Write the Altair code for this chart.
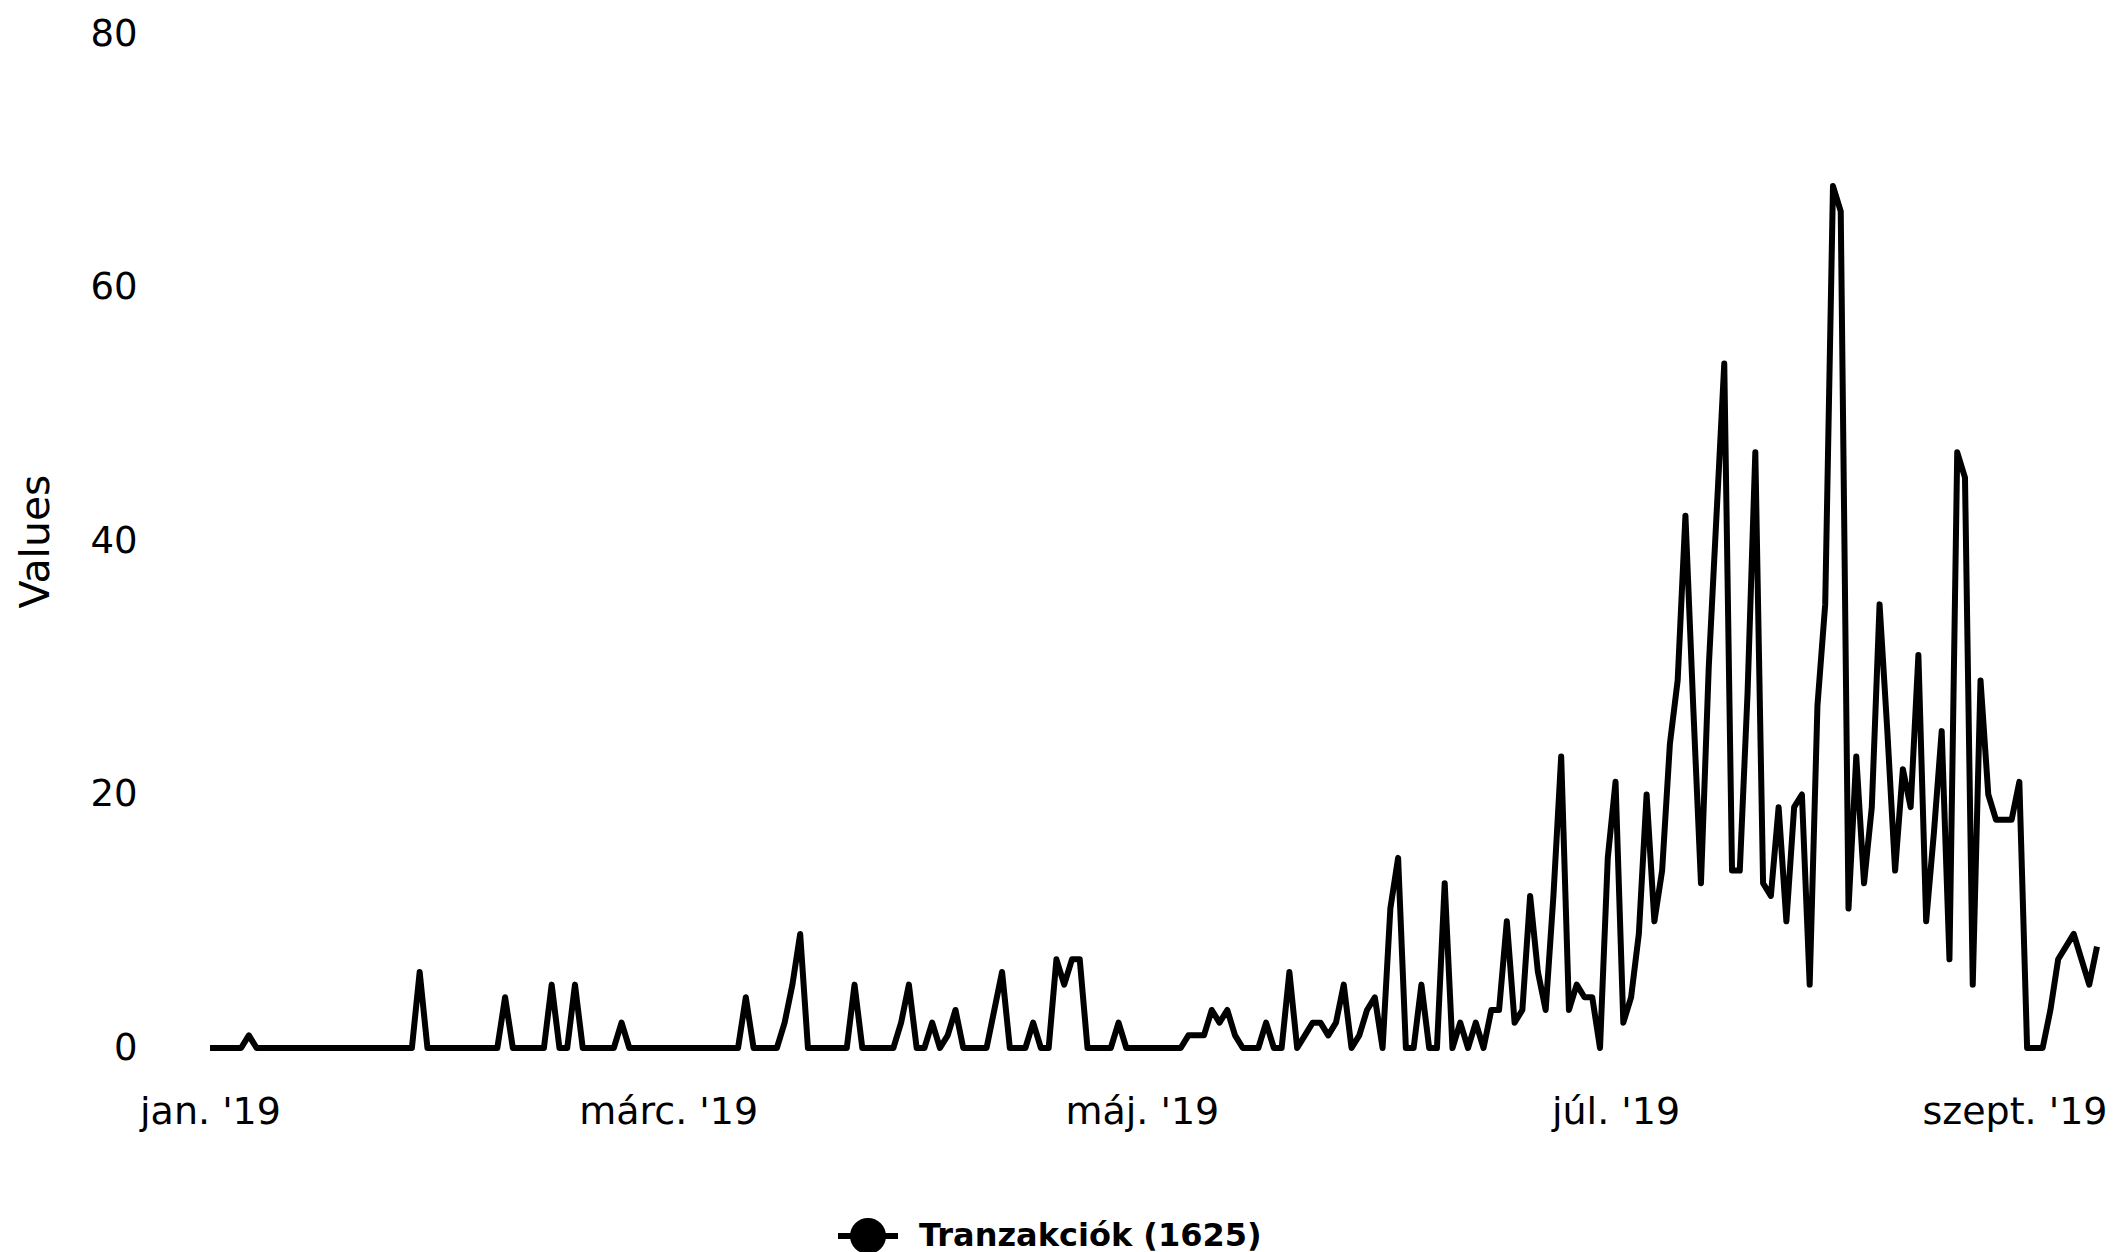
import altair as alt
import pandas as pd

# ---- data (daily values, 2019-01-01 .. 2019-09-01) ----
start_date = "2019-01-01"
jan = [0, 0, 0, 0, 0, 1, 0, 0, 0, 0, 0, 0, 0, 0, 0, 0, 0, 0, 0, 0,
       0, 0, 0, 0, 0, 0, 0, 6, 0, 0, 0]
feb = [0, 0, 0, 0, 0, 0, 0, 4, 0, 0, 0, 0, 0, 5, 0, 0, 5, 0, 0, 0,
       0, 0, 2, 0, 0, 0, 0, 0]
mar = [0, 0, 0, 0, 0, 0, 0, 0, 0, 0, 4, 0, 0, 0, 0, 2, 5, 9, 0, 0,
       0, 0, 0, 0, 5, 0, 0, 0, 0, 0, 2]
apr = [5, 0, 0, 2, 0, 1, 3, 0, 0, 0, 0, 3, 6, 0, 0, 0, 2, 0, 0, 7,
       5, 7, 7, 0, 0, 0, 0, 2, 0, 0]
may = [0, 0, 0, 0, 0, 0, 1, 1, 1, 3, 2, 3, 1, 0, 0, 0, 2, 0, 0, 6,
       0, 1, 2, 2, 1, 2, 5, 0, 1, 3, 4]
jun = [0, 11, 15, 0, 0, 5, 0, 0, 13, 0, 2, 0, 2, 0, 3, 3, 10, 2, 3, 12,
       6, 3, 12, 23, 3, 5, 4, 4, 0, 15]
jul = [21, 2, 4, 9, 20, 10, 14, 24, 29, 42, 27, 13, 30, 42, 54, 14, 14, 28, 47, 13,
       12, 19, 10, 19, 20, 5, 27, 35, 68, 66, 11]
aug = [23, 13, 19, 35, 25, 14, 22, 19, 31, 10, 17, 25, 7, 47, 45, 5, 29, 20, 18, 18,
       18, 21, 0, 0, 0, 3, 7, 8, 9, 7, 5]
sep = [8]

series_name = "Tranzakciók (1625)"
month_names = ["jan.", "febr.", "márc.", "ápr.", "máj.", "jún.",
               "júl.", "aug.", "szept.", "okt.", "nov.", "dec."]
x_tick_months = [1, 3, 5, 7, 9]
y_ticks = [0, 20, 40, 60, 80]

values = jan + feb + mar + apr + may + jun + jul + aug + sep
dates = pd.date_range(start_date, periods=len(values), freq="D").strftime("%Y-%m-%d").tolist()
df = pd.DataFrame({"date": dates, "value": values, "series": series_name})

FONT = "DejaVu Sans"
month_js = "[" + ",".join("'" + m + "'" for m in month_names) + "]"
label_expr = month_js + "[utcmonth(datum.value)] + \" '\" + utcFormat(datum.value, '%y')"
last_tick_test = "utcmonth(datum.value) == 8"

legend_symbol = "M-1,0L1,0M0.5,0A0.5,0.5,0,1,1,-0.5,0A0.5,0.5,0,1,1,0.5,0Z"

chart = alt.Chart(df).mark_line(strokeWidth=6, strokeJoin="round").encode(
    x=alt.X(
        "date:T",
        scale=alt.Scale(type="utc", nice=False),
        axis=alt.Axis(
            values=[alt.DateTime(year=2019, month=m, date=1, utc=True) for m in x_tick_months],
            labelExpr=label_expr,
            title=None,
            grid=False,
            domain=False,
            ticks=False,
            tickSize=0,
            labelFont=FONT,
            labelFontSize=38,
            labelColor="#000000",
            labelBaseline="alphabetic",
            labelPadding=75,
            labelLimit=500,
            labelAlign={"condition": {"test": last_tick_test, "value": "right"},
                        "value": "center"},
            labelOffset={"condition": {"test": last_tick_test, "value": 10},
                         "value": 0},
        ),
    ),
    y=alt.Y(
        "value:Q",
        scale=alt.Scale(domain=[0, 80], nice=False),
        axis=alt.Axis(
            values=y_ticks,
            title="Values",
            grid=False,
            domain=False,
            ticks=False,
            tickSize=0,
            labelFont=FONT,
            labelFontSize=37,
            labelColor="#000000",
            labelPadding=73,
            titleFont=FONT,
            titleFontSize=41,
            titleFontWeight="normal",
            titleColor="#000000",
            titleAngle=270,
            titleX=-174,
            titleY=507,
            titleBaseline="middle",
            titleAlign="center",
        ),
    ),
    color=alt.Color(
        "series:N",
        scale=alt.Scale(range=["#000000"]),
        legend=alt.Legend(
            title=None,
            orient="none",
            legendX=625,
            legendY=1169,
            padding=0,
            symbolType=legend_symbol,
            symbolSize=3600,
            symbolStrokeWidth=6,
            symbolFillColor="#000000",
            symbolStrokeColor="#000000",
            labelFont=FONT,
            labelFontSize=32,
            labelFontWeight="bold",
            labelColor="#000000",
            labelOffset=18,
            labelLimit=800,
        ),
    ),
).properties(
    width=1887,
    height=1014,
    padding={"left": 202, "top": 26, "right": 14, "bottom": 206},
    autosize=alt.AutoSizeParams(type="none"),
).configure_view(stroke=None)

chart.save("out.html", embed_options={"renderer": "svg", "actions": False})
